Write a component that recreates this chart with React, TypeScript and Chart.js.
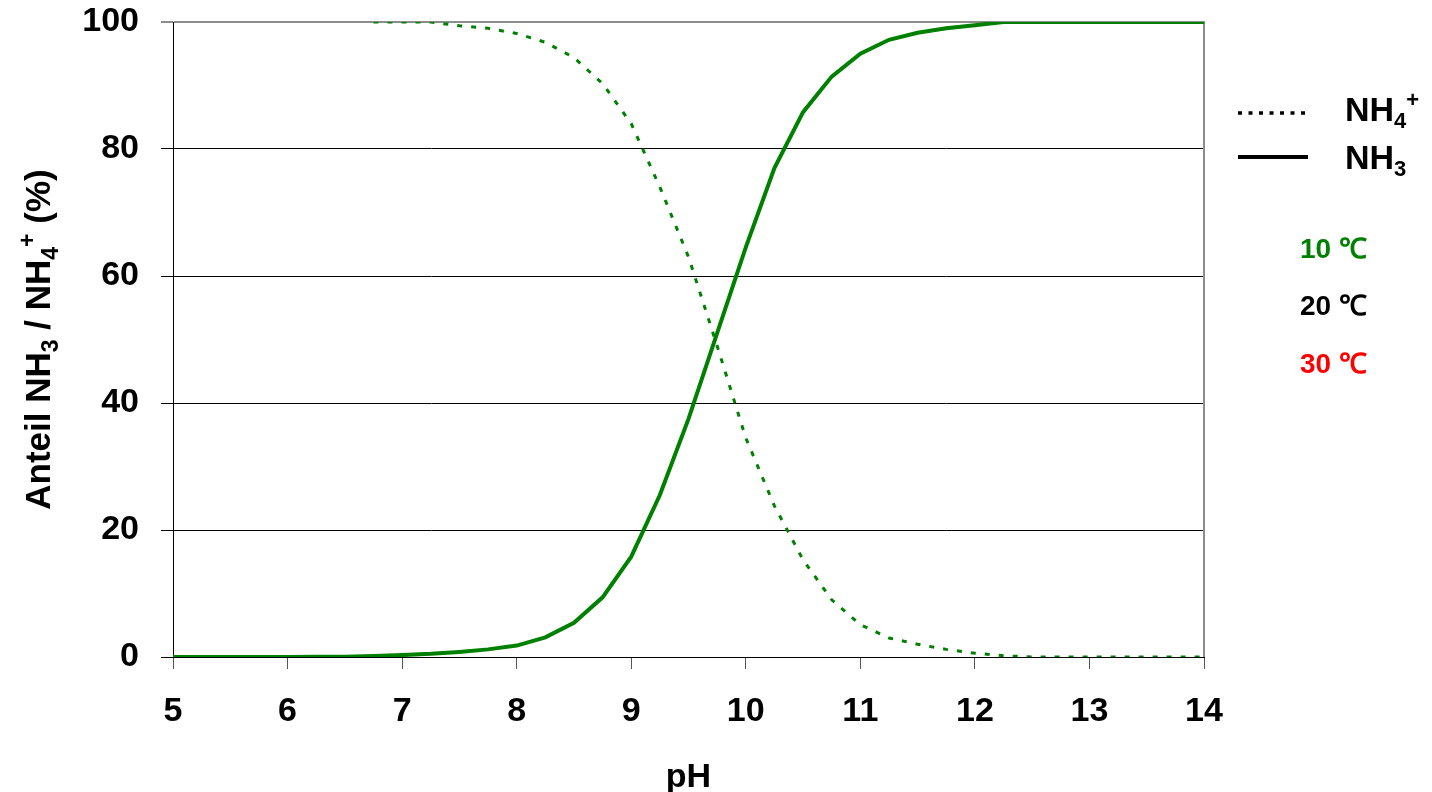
import React, { useEffect, useRef } from "react";
import { Chart, registerables } from "chart.js";

Chart.register(...registerables);

// pH values for the NH3 curve (solid)
const phNH3 = [5, 5.25, 5.5, 5.75, 6, 6.25, 6.5, 6.75, 7, 7.25, 7.5, 7.75, 8, 8.25, 8.5, 8.75, 9, 9.25, 9.5, 9.75, 10, 10.25, 10.5, 10.75, 11, 11.25, 11.5, 11.75, 12, 12.25, 12.5, 12.75, 13, 13.25, 13.5, 13.75, 14];
// NH3 share (%) at 10 °C
const nh3 = [0, 0, 0, 0, 0, 0.02, 0.05, 0.15, 0.3, 0.5, 0.8, 1.2, 1.8, 3.1, 5.4, 9.4, 15.8, 25.5, 37.5, 51, 64.5, 77, 85.8, 91.4, 95, 97.2, 98.3, 99, 99.5, 100, 100, 100, 100, 100, 100, 100, 100];

// pH values for the NH4+ curve (dotted)
const phNH4 = [6.75, 7, 7.25, 7.5, 7.75, 8, 8.25, 8.5, 8.75, 9, 9.25, 9.5, 9.75, 10, 10.25, 10.5, 10.75, 11, 11.25, 11.5, 11.75, 12, 12.25, 12.5, 12.75, 13, 13.25, 13.5, 13.75, 14];
// NH4+ share (%) at 10 °C
const nh4 = [100, 100, 100, 99.4, 99, 98.2, 96.8, 94.4, 90.3, 84, 74, 63, 49, 34.5, 23.8, 15.3, 9, 5.1, 3, 2, 1.2, 0.6, 0.2, 0, 0, 0, 0, 0, 0, 0];

const xTicks = [5, 6, 7, 8, 9, 10, 11, 12, 13, 14];
const yTicks = [0, 20, 40, 60, 80, 100];
const tempLabels = ["10 \u2103", "20 \u2103", "30 \u2103"];
const tempColors = ["#008000", "#000000", "#ff0000"];

const FONT = '"Liberation Sans", Arial, sans-serif';
const GREEN = "#008000";

type Part = { t: string; k?: "sub" | "sup" };

function partFont(size: number, k?: string) {
  const s = k ? Math.round(size * 0.65) : size;
  return `bold ${s}px ${FONT}`;
}

function measureRich(ctx: CanvasRenderingContext2D, parts: Part[], size: number) {
  let w = 0;
  for (const p of parts) {
    ctx.font = partFont(size, p.k);
    w += ctx.measureText(p.t).width;
  }
  return w;
}

function drawRich(ctx: CanvasRenderingContext2D, parts: Part[], x: number, y: number, size: number, align: "left" | "center") {
  let cx = align === "center" ? x - measureRich(ctx, parts, size) / 2 : x;
  ctx.textAlign = "left";
  ctx.textBaseline = "alphabetic";
  for (const p of parts) {
    ctx.font = partFont(size, p.k);
    let dy = 0;
    if (p.k === "sub") dy = size * 0.22;
    if (p.k === "sup") dy = -size * 0.42;
    ctx.fillText(p.t, cx, y + dy);
    cx += ctx.measureText(p.t).width;
  }
}

const decorPlugin = {
  id: "decor",
  beforeDatasetsDraw(chart: any) {
    const { ctx, chartArea } = chart;
    ctx.save();
    ctx.strokeStyle = "#8c8c8c";
    ctx.lineWidth = 2;
    ctx.beginPath();
    ctx.moveTo(chartArea.right, chartArea.top - 1);
    ctx.lineTo(chartArea.right, chartArea.bottom);
    ctx.stroke();
    ctx.restore();
  },
  afterDraw(chart: any) {
    const { ctx, chartArea } = chart;
    ctx.save();
    ctx.fillStyle = "#000";

    // y axis title
    ctx.save();
    ctx.translate(50, (chartArea.top + chartArea.bottom) / 2);
    ctx.rotate(-Math.PI / 2);
    drawRich(ctx, [
      { t: "Anteil NH" }, { t: "3", k: "sub" }, { t: " / NH" }, { t: "4", k: "sub" }, { t: "+", k: "sup" }, { t: " (%)" },
    ], 0, 0, 35, "center");
    ctx.restore();

    // x axis title
    drawRich(ctx, [{ t: "pH" }], (chartArea.left + chartArea.right) / 2, 787, 34, "center");

    // legend line samples
    ctx.strokeStyle = "#000";
    ctx.lineWidth = 3.5;
    ctx.setLineDash([4, 6.5]);
    ctx.beginPath();
    ctx.moveTo(1238, 113);
    ctx.lineTo(1309, 113);
    ctx.stroke();
    ctx.setLineDash([]);
    ctx.lineWidth = 4;
    ctx.beginPath();
    ctx.moveTo(1238, 157);
    ctx.lineTo(1308, 157);
    ctx.stroke();

    drawRich(ctx, [{ t: "NH" }, { t: "4", k: "sub" }, { t: "+", k: "sup" }], 1345, 121, 34, "left");
    drawRich(ctx, [{ t: "NH" }, { t: "3", k: "sub" }], 1345, 169, 34, "left");

    // temperature labels
    const tempY = [258, 315, 373];
    tempLabels.forEach((lab, i) => {
      ctx.fillStyle = tempColors[i];
      ctx.font = `bold 28px ${FONT}`;
      ctx.textAlign = "left";
      ctx.textBaseline = "alphabetic";
      ctx.fillText(lab, 1300, tempY[i]);
    });
    ctx.restore();
  },
};

export default function App() {
  const ref = useRef<HTMLCanvasElement | null>(null);

  useEffect(() => {
    if (!ref.current) return;
    const chart = new Chart(ref.current, {
      type: "line",
      data: {
        datasets: [
          {
            label: "NH4+",
            data: phNH4.map((x, i) => ({ x, y: nh4[i] })),
            borderColor: GREEN,
            borderWidth: 3,
            borderDash: [5, 9],
            pointRadius: 0,
            tension: 0,
            fill: false,
          },
          {
            label: "NH3",
            data: phNH3.map((x, i) => ({ x, y: nh3[i] })),
            borderColor: GREEN,
            borderWidth: 4,
            pointRadius: 0,
            tension: 0,
            fill: false,
          },
        ],
      },
      options: {
        animation: false,
        responsive: false,
        devicePixelRatio: 1,
        layout: { padding: { left: 0, right: 228, top: 22, bottom: 0 } },
        plugins: { legend: { display: false }, tooltip: { enabled: false } },
        scales: {
          x: {
            type: "linear",
            min: 5,
            max: 14,
            afterFit: (s: any) => { s.height = 135; s.paddingLeft = 0; s.paddingRight = 0; },
            afterBuildTicks: (s: any) => { s.ticks = xTicks.map((v) => ({ value: v })); },
            grid: { drawOnChartArea: false, drawTicks: true, tickLength: 12, color: "#555", lineWidth: 1 },
            border: { color: "#000", width: 1 },
            ticks: { color: "#000", padding: 22, font: { family: FONT, size: 34, weight: "bold" } },
            title: { display: false },
          },
          y: {
            min: 0,
            max: 100,
            afterFit: (s: any) => { s.width = 173; s.paddingTop = 0; s.paddingBottom = 0; },
            afterBuildTicks: (s: any) => { s.ticks = yTicks.map((v) => ({ value: v })); },
            grid: {
              drawTicks: true,
              tickLength: 12,
              color: (c: any) => (c.tick && c.tick.value === 100 ? "#8c8c8c" : "#000"),
              lineWidth: (c: any) => (c.tick && c.tick.value === 100 ? 2 : 1),
            },
            border: { color: "#000", width: 1 },
            ticks: { color: "#000", padding: 22, font: { family: FONT, size: 34, weight: "bold" } },
            title: { display: false },
          },
        },
      },
      plugins: [decorPlugin],
    } as any);
    return () => chart.destroy();
  }, []);

  return (
    <div style={{ position: "absolute", left: 0, top: 0, width: 1432, height: 792, background: "#fff" }}>
      <canvas ref={ref} width={1432} height={792} style={{ display: "block", width: 1432, height: 792 }} />
    </div>
  );
}
